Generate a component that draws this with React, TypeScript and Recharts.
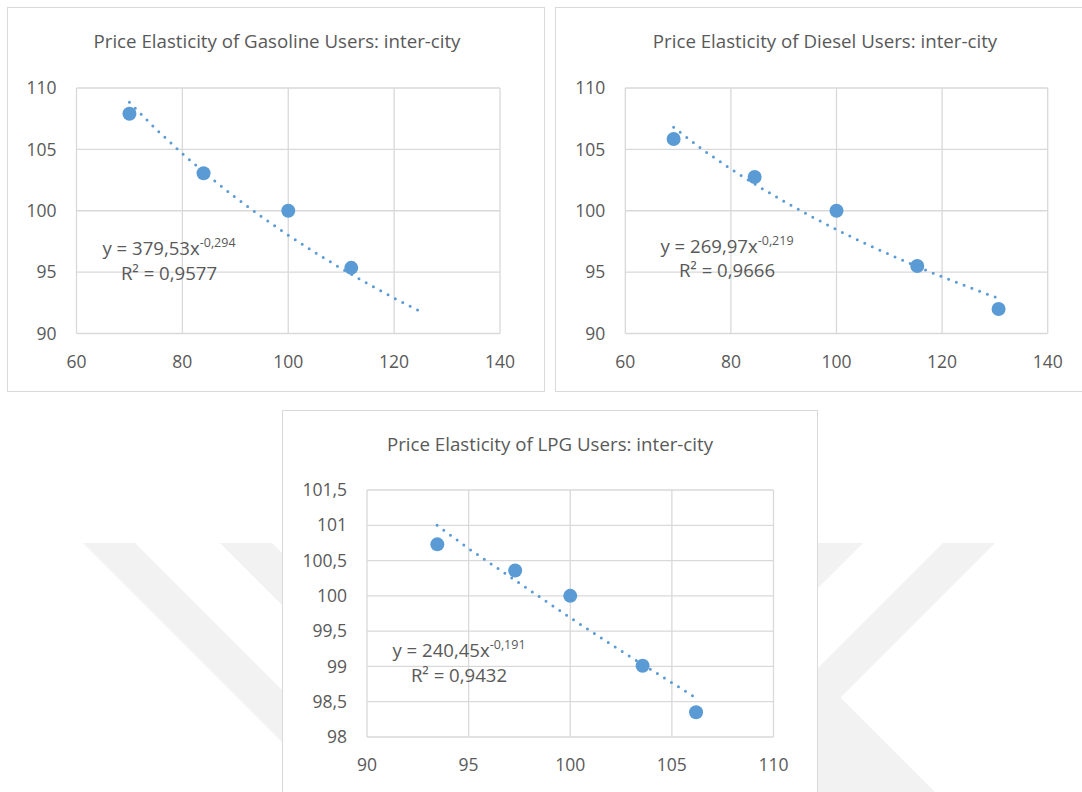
import React from "react";
import { ScatterChart, Scatter, XAxis, YAxis, CartesianGrid } from "recharts";

// ---------- data ----------
const gasolinePrice = [70, 84, 100, 111.9];
const gasolineDemand = [107.9, 103.05, 100, 95.35];
const gasolineTrendPrice = [70, 75, 80, 85, 90, 95, 100, 105, 110, 115, 120, 125];
const gasolineTrendDemand = [108.83, 106.66, 104.65, 102.8, 101.09, 99.5, 98.01, 96.61, 95.3, 94.06, 92.89, 91.79];

const dieselPrice = [69.15, 84.5, 100, 115.3, 130.7];
const dieselDemand = [105.85, 102.75, 100, 95.5, 92.0];
const dieselTrendPrice = [69.15, 75, 80, 85, 90, 95, 100, 105, 110, 115, 120, 125, 130.7];
const dieselTrendDemand = [106.8, 104.87, 103.4, 102.04, 100.77, 99.58, 98.47, 97.42, 96.44, 95.5, 94.62, 93.78, 92.86];

const lpgPrice = [93.46, 97.29, 100, 103.56, 106.19];
const lpgDemand = [100.73, 100.36, 100, 99.01, 98.35];
const lpgTrendPrice = [93.45, 95, 97.5, 100, 102.5, 105, 106.15];
const lpgTrendDemand = [101.0, 100.67, 100.18, 99.69, 99.22, 98.77, 98.56];

const wideXTicks = [60, 80, 100, 120, 140];
const wideYTicks = [90, 95, 100, 105, 110];
const lpgXTicks = [90, 95, 100, 105, 110];
const lpgYTicks = [98, 98.5, 99, 99.5, 100, 100.5, 101, 101.5];

const titles = [
  "Price Elasticity of Gasoline Users: inter-city",
  "Price Elasticity of Diesel Users: inter-city",
  "Price Elasticity of LPG Users: inter-city",
];
const equations = [
  ["y = 379,53x", "-0,294", "R\u00b2 = 0,9577"],
  ["y = 269,97x", "-0,219", "R\u00b2 = 0,9666"],
  ["y = 240,45x", "-0,191", "R\u00b2 = 0,9432"],
];

// ---------- style ----------
const BLUE = "#5b9bd5";
const GRID = "#d9d9d9";
const TEXT = "#595959";
const FONT = "'Open Sans', 'Noto Sans', sans-serif";

const fmt = (v: number) => String(v).replace(".", ",");
const Dot = (props: any) => <circle cx={props.cx} cy={props.cy} r={7} fill={BLUE} />;
const NoDot = () => <g />;

type PanelProps = {
  left: number; top: number; width: number; height: number;
  margin: { top: number; right: number; bottom: number; left: number };
  px: number[]; py: number[]; tx: number[]; ty: number[];
  xDomain: [number, number]; yDomain: [number, number];
  xTicks: number[]; yTicks: number[];
  title: string; titleX: number; titleY: number;
  eq: string[]; eqX: number; eqY1: number; eqY2: number;
};

function Panel(p: PanelProps) {
  const points = p.px.map((x, i) => ({ x, y: p.py[i] }));
  const trend = p.tx.map((x, i) => ({ x, y: p.ty[i] }));
  const tick = { fill: TEXT, fontSize: 17.5, fontFamily: FONT };
  return (
    <div
      style={{
        position: "absolute", left: p.left, top: p.top, width: p.width, height: p.height,
        border: "1px solid #d9d9d9", boxSizing: "border-box", background: "#ffffff",
      }}
    >
      <div style={{ position: "absolute", left: -1, top: -1 }}>
        <ScatterChart width={p.width} height={p.height} margin={p.margin}>
          <CartesianGrid stroke={GRID} strokeWidth={1.3} />
          <XAxis
            type="number" dataKey="x" domain={p.xDomain} ticks={p.xTicks} allowDataOverflow
            axisLine={false} tickLine={false} tickSize={0} tickMargin={22} height={30}
            tick={tick} tickFormatter={fmt} interval={0}
          />
          <YAxis
            type="number" dataKey="y" domain={p.yDomain} ticks={p.yTicks} allowDataOverflow
            axisLine={false} tickLine={false} tickSize={0} tickMargin={20} width={50}
            tick={tick} tickFormatter={fmt} interval={0}
          />
          <Scatter data={points} shape={Dot} isAnimationActive={false} />
          <Scatter
            data={trend}
            shape={NoDot}
            line={{ stroke: BLUE, strokeWidth: 3, strokeDasharray: "0 8.3", strokeLinecap: "round" }}
            isAnimationActive={false}
          />
        </ScatterChart>
      </div>
      <svg
        width={p.width} height={p.height}
        style={{ position: "absolute", left: -1, top: -1, pointerEvents: "none" }}
      >
        <text x={p.titleX} y={p.titleY} textAnchor="middle" fontSize={18.7} fontFamily={FONT} fill={TEXT}>
          {p.title}
        </text>
        <text x={p.eqX} y={p.eqY1} textAnchor="middle" fontSize={18.6} fontFamily={FONT} fill={TEXT}>
          {p.eq[0]}
          <tspan fontSize={12.5} dy={-8}>{p.eq[1]}</tspan>
        </text>
        <text x={p.eqX} y={p.eqY2} textAnchor="middle" fontSize={18.6} fontFamily={FONT} fill={TEXT}>
          {p.eq[2]}
        </text>
      </svg>
    </div>
  );
}

export default function App() {
  return (
    <div
      style={{
        position: "absolute", left: 0, top: 0, width: 1082, height: 792,
        overflow: "hidden", background: "#ffffff", fontFamily: FONT,
      }}
    >
      <svg width={1082} height={792} style={{ position: "absolute", left: 0, top: 0 }}>
        <g fill="#f2f2f2">
          <polygon points="83,543 135,543 395,803 343,803" />
          <polygon points="220,543 272,543 532,803 480,803" />
          <polygon points="943,543 995,543 737,801 685,801" />
          <polygon points="818,675 840,697 937,794 818,794" />
          <polygon points="811,543 863,543 603,803 551,803" />
        </g>
      </svg>
      <Panel
        left={7} top={7} width={538} height={385}
        margin={{ top: 81, right: 45, bottom: 28.5, left: 19.5 }}
        px={gasolinePrice} py={gasolineDemand} tx={gasolineTrendPrice} ty={gasolineTrendDemand}
        xDomain={[60, 140]} yDomain={[90, 110]} xTicks={wideXTicks} yTicks={wideYTicks}
        title={titles[0]} titleX={270} titleY={41}
        eq={equations[0]} eqX={162} eqY1={248} eqY2={273}
      />
      <Panel
        left={555} top={7} width={538} height={385}
        margin={{ top: 81, right: 45.3, bottom: 28.5, left: 20.3 }}
        px={dieselPrice} py={dieselDemand} tx={dieselTrendPrice} ty={dieselTrendDemand}
        xDomain={[60, 140]} yDomain={[90, 110]} xTicks={wideXTicks} yTicks={wideYTicks}
        title={titles[1]} titleX={270} titleY={41}
        eq={equations[1]} eqX={172} eqY1={246} eqY2={270}
      />
      <Panel
        left={282} top={410} width={536} height={386}
        margin={{ top: 80, right: 44.5, bottom: 29, left: 35 }}
        px={lpgPrice} py={lpgDemand} tx={lpgTrendPrice} ty={lpgTrendDemand}
        xDomain={[90, 110]} yDomain={[98, 101.5]} xTicks={lpgXTicks} yTicks={lpgYTicks}
        title={titles[2]} titleX={268} titleY={41}
        eq={equations[2]} eqX={177} eqY1={247} eqY2={272}
      />
    </div>
  );
}
